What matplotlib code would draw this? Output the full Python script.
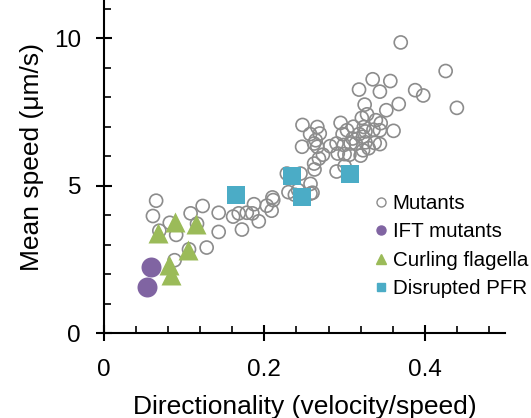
import numpy as np
import matplotlib.pyplot as plt
from matplotlib.lines import Line2D
from matplotlib.ticker import MultipleLocator

plt.rcParams['font.family'] = ['Liberation Sans', 'DejaVu Sans']

# Mutants (open grey circles)
mut_x = [0.065, 0.061, 0.069, 0.082, 0.090, 0.108, 0.123, 0.116, 0.128, 0.088,
         0.106, 0.143, 0.143, 0.161, 0.168, 0.172, 0.178, 0.187, 0.185, 0.193,
         0.203, 0.209, 0.211, 0.230, 0.238, 0.242, 0.228, 0.2575, 0.260, 0.262,
         0.2625, 0.2575, 0.210,
         0.2475, 0.266, 0.257, 0.269, 0.264, 0.247, 0.266, 0.282, 0.273, 0.2915,
         0.300, 0.306, 0.290, 0.300, 0.295, 0.303, 0.2975, 0.290, 0.299, 0.3075,
         0.245, 0.262, 0.268, 0.310,
         0.3215, 0.328, 0.324, 0.339, 0.345, 0.318, 0.326, 0.323, 0.344, 0.361,
         0.3375, 0.344, 0.326, 0.314, 0.323, 0.320, 0.330, 0.336, 0.311,
         0.370, 0.426, 0.335, 0.357, 0.318, 0.344, 0.388, 0.398, 0.325, 0.3675,
         0.352, 0.440]
mut_y = [4.49, 3.97, 3.47, 3.74, 3.33, 4.06, 4.31, 3.71, 2.90, 2.47,
         2.84, 4.08, 3.43, 3.95, 4.06, 3.51, 4.08, 4.37, 4.06, 3.79,
         4.32, 4.15, 4.51, 4.78, 4.69, 4.85, 5.41, 5.06, 4.76, 5.75,
         5.55, 4.73, 4.60,
         7.06, 6.99, 6.75, 6.77, 6.54, 6.32, 6.32, 6.34, 6.05, 6.09,
         6.07, 6.05, 5.48, 5.66, 7.13, 6.88, 6.75, 6.43, 6.38, 6.43,
         5.41, 6.43, 5.92, 6.60,
         7.30, 7.42, 6.99, 7.22, 7.12, 6.75, 6.84, 6.66, 6.88, 6.86,
         6.45, 6.41, 6.47, 6.43, 6.20, 6.02, 6.27, 6.90, 7.00,
         9.86, 8.89, 8.61, 8.55, 8.26, 8.19, 8.24, 8.06, 7.75, 7.77,
         7.56, 7.64]

# IFT mutants (purple)
ift_x = [0.059, 0.053]
ift_y = [2.25, 1.57]

# Curling flagella (green triangles)
curl_x = [0.0675, 0.089, 0.115, 0.105, 0.081, 0.083]
curl_y = [3.38, 3.78, 3.69, 2.81, 2.30, 1.97]

# Disrupted PFR (blue squares)
pfr_x = [0.165, 0.235, 0.2475, 0.3065]
pfr_y = [4.67, 5.32, 4.62, 5.38]

grey = '#8c8c8c'
purple = '#8064a2'
green = '#9bbb59'
blue = '#4bacc6'

fig = plt.figure(figsize=(5.31, 4.18), dpi=100)
ax = fig.add_axes([104/531, 85/418, 401/531, 333/418])

ax.scatter(mut_x, mut_y, s=88, facecolors='none', edgecolors=grey, linewidths=1.2, zorder=2)
ax.scatter(ift_x, ift_y, s=207, marker='o', color=purple, linewidths=0, zorder=3)
ax.scatter(curl_x, curl_y, s=207, marker='^', color=green, linewidths=0, zorder=4)
ax.scatter(pfr_x, pfr_y, s=187, marker='s', color=blue, linewidths=0, zorder=5)

ax.set_xlim(0, 0.5)
ax.set_ylim(0, 11.3)
ax.xaxis.set_minor_locator(MultipleLocator(0.04))
ax.yaxis.set_major_locator(MultipleLocator(5))
ax.yaxis.set_minor_locator(MultipleLocator(1))
ax.set_xticks([0, 0.2, 0.4])
ax.set_xticklabels(['0', '0.2', '0.4'])

for s in ['top', 'right']:
    ax.spines[s].set_visible(False)
for s in ['left', 'bottom']:
    ax.spines[s].set_linewidth(1.5)

ax.tick_params(which='major', direction='inout', length=11, width=1.5, labelsize=17.5)
ax.tick_params(which='minor', direction='in', length=5, width=1.2)
ax.tick_params(axis='x', which='major', pad=13)
ax.tick_params(axis='y', which='major', pad=11)

ax.set_xlabel('Directionality (velocity/speed)', fontsize=19)
ax.set_ylabel('Mean speed (\u03bcm/s)', fontsize=19)
ax.xaxis.set_label_coords(0.5, -0.185)
ax.yaxis.set_label_coords(-0.15, 0.53)

handles = [
    Line2D([], [], linestyle='none', marker='o', markersize=6.5, markerfacecolor='none',
           markeredgecolor=grey, markeredgewidth=1.0),
    Line2D([], [], linestyle='none', marker='o', markersize=6.5, color=purple),
    Line2D([], [], linestyle='none', marker='^', markersize=6.5, color=green),
    Line2D([], [], linestyle='none', marker='s', markersize=6, color=blue),
]
labels = ['Mutants', 'IFT mutants', 'Curling flagella', 'Disrupted PFR']
ax.legend(handles, labels, loc='center left', bbox_to_anchor=(0.676, 0.261),
          frameon=False, fontsize=14.8, handlelength=0.6, handletextpad=0.25,
          labelspacing=0.45, borderpad=0, borderaxespad=0)

fig.savefig('out.png', dpi=100)
